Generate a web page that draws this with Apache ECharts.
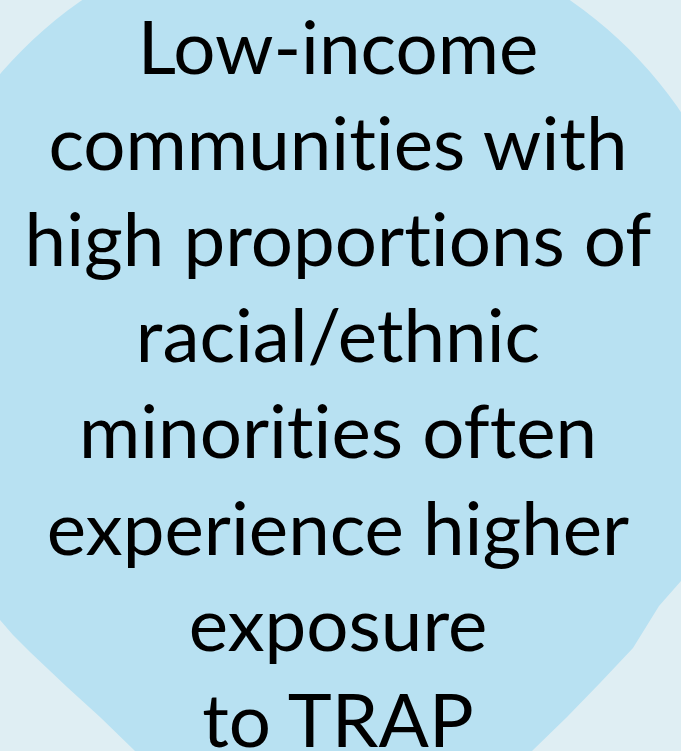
<!DOCTYPE html>
<html>
<head>
<meta charset="utf-8">
<script src="https://cdn.jsdelivr.net/npm/echarts@6/dist/echarts.min.js"></script>
<style>
html,body{margin:0;padding:0;background:#dfeef3;}
#c{width:681px;height:751px;}
#c text{font-variant-ligatures:none !important;font-feature-settings:"liga" 0,"clig" 0 !important;}
</style>
</head>
<body>
<div id="c"></div>
<script>
const lines = [
  "Low-income",
  "communities with",
  "high proportions of",
  "racial/ethnic",
  "minorities often",
  "experience higher",
  "exposure",
  "to TRAP"
];
const bgColor = "#dfeef3";
const blobColor = "#b8e1f2";

const chart = echarts.init(document.getElementById('c'), null, {renderer: 'svg'});
const fontSize = 74.5;
const firstBaseline = 75;
const lineStep = 96.1;
const cx = 338;

// blob outline: circular top, flatter lower corners
const ccx = 326, ccy = 353, cr = 429;
const outline = [];
for (let a = 144.9; a <= 388.8; a += 2) {
  const r = a * Math.PI / 180;
  outline.push([ccx + cr * Math.cos(r), ccy + cr * Math.sin(r)]);
}
[[702, 560], [681, 581], [659, 606], [633, 648], [600, 683], [567, 717], [532, 751], [518, 770],
 [150, 770], [135, 751], [100, 717], [67, 687], [30, 652], [13, 635], [0, 620], [-25, 600]]
  .forEach(p => outline.push(p));

const textEls = lines.map((t, i) => ({
  type: 'text',
  z: 10,
  style: {
    text: t,
    x: cx,
    y: firstBaseline + i * lineStep - 30,
    align: 'center',
    verticalAlign: 'middle',
    font: fontSize + 'px Lato',
    fill: '#000000'
  }
}));

chart.setOption({
  backgroundColor: bgColor,
  graphic: [
    {type: 'polygon', z: 2, shape: {points: outline}, style: {fill: blobColor}},
    ...textEls
  ]
});
</script>
</body>
</html>
